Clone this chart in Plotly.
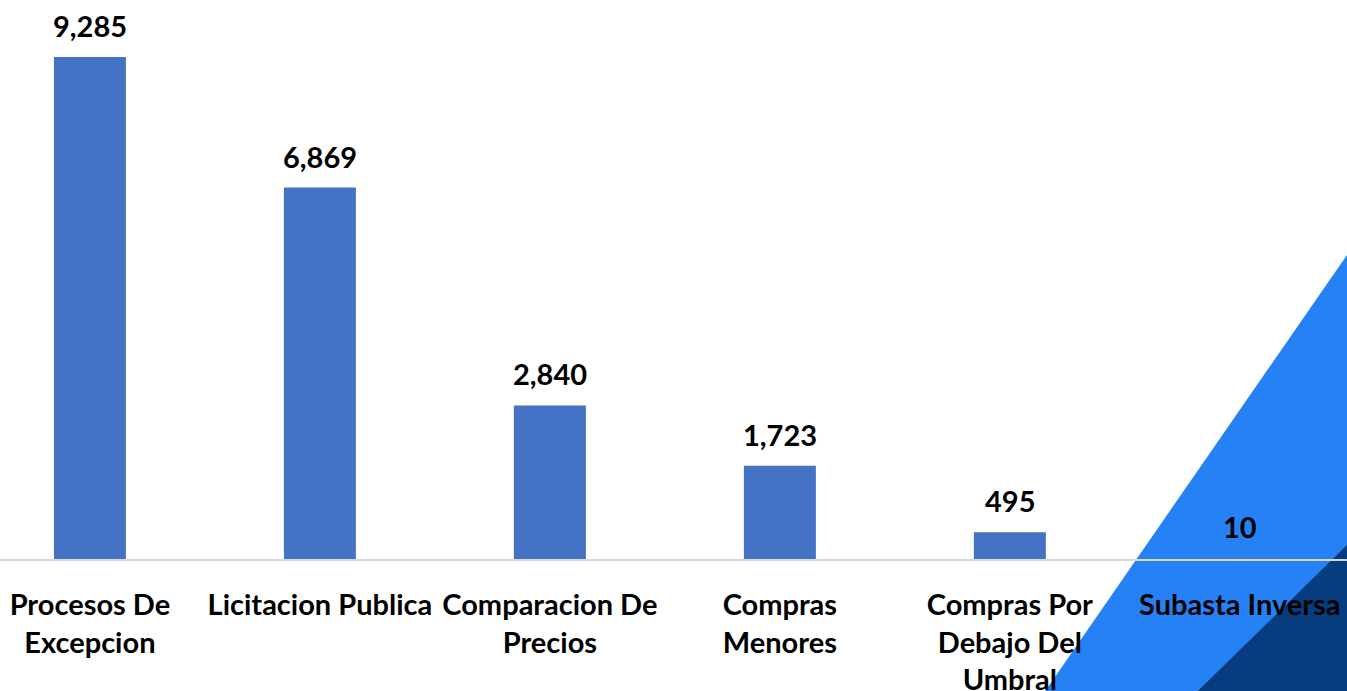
import plotly.graph_objects as go

categories = ["Procesos De<br>Excepcion", "Licitacion Publica", "Comparacion De<br>Precios",
              "Compras<br>Menores", "Compras Por<br>Debajo Del<br>Umbral", "Subasta Inversa"]
values = [9285, 6869, 2840, 1723, 495, 10]
value_labels = [f"{v:,}" for v in values]

BAR_COLOR = "#4472C4"
FONT = "Lato"

fig = go.Figure()
fig.add_trace(go.Bar(
    x=list(range(len(categories))), y=values,
    marker=dict(color=BAR_COLOR, line=dict(width=0)),
    width=0.313, hoverinfo="skip",
))

for i, (v, t) in enumerate(zip(values, value_labels)):
    fig.add_annotation(x=i, y=v, text=f"<b>{t}</b>", showarrow=False,
                       xref="x", yref="y", yanchor="bottom", yshift=12,
                       font=dict(family=FONT, size=29, color="black"))

# decorative triangles (paper coords)
fig.add_shape(type="path", xref="paper", yref="paper", layer="below",
              path="M 1.0 0.544 L 0.772 -0.25 L 1.0 -0.25 Z",
              fillcolor="#2681F4", line=dict(width=0))
fig.add_shape(type="path", xref="paper", yref="paper", layer="below",
              path="M 1.0 0.025 L 0.8834 -0.25 L 1.0 -0.25 Z",
              fillcolor="#073C7E", line=dict(width=0))

fig.update_layout(
    width=1347, height=691,
    margin=dict(l=0, r=0, t=0, b=132, autoexpand=False),
    paper_bgcolor="white", plot_bgcolor="rgba(0,0,0,0)",
    showlegend=False,
    font=dict(family=FONT, size=29, color="black"),
    xaxis=dict(
        range=[-0.391, 5.466], tickmode="array",
        tickvals=list(range(len(categories))),
        ticktext=[f"<b>{c}</b>" for c in categories],
        showline=True, linecolor="#D9D9D9", linewidth=2,
        showgrid=False, zeroline=False, ticks="",
        ticklabelstandoff=19, automargin=False,
        tickfont=dict(family=FONT, size=29, color="black"),
        fixedrange=True,
    ),
    yaxis=dict(range=[0, 10339], visible=False, fixedrange=True, automargin=False),
)

fig.write_html("out.html",
               config={"displayModeBar": False},
               post_script="document.body.style.margin='0px';document.body.style.overflow='hidden';")
